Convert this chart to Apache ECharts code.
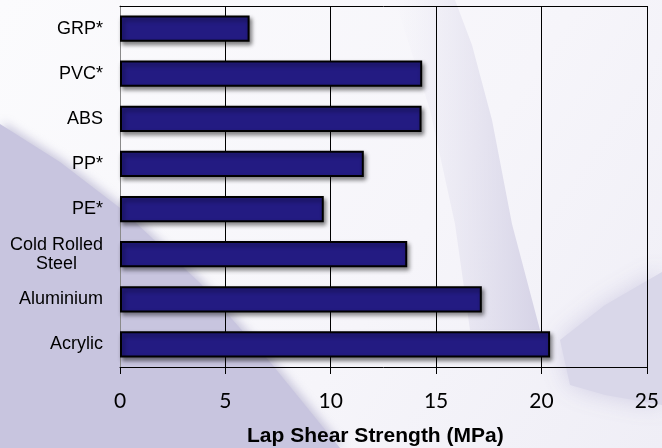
<!DOCTYPE html>
<html>
<head>
<meta charset="utf-8">
<script src="https://cdn.jsdelivr.net/npm/echarts@6/dist/echarts.min.js"></script>
<style>
  html, body { margin: 0; padding: 0; background: #ffffff; }
  #chart { width: 662px; height: 448px; }
</style>
</head>
<body>
<div id="chart"></div>
<script>
const categories = ['GRP*', 'PVC*', 'ABS', 'PP*', 'PE*', 'Cold Rolled\nSteel', 'Aluminium', 'Acrylic'];
const strengths = [6.15, 14.34, 14.31, 11.57, 9.67, 13.63, 17.17, 20.41];
const xTicks = { min: 0, max: 25, interval: 5 };
const xTitle = 'Lap Shear Strength (MPa)';

const chart = echarts.init(document.getElementById('chart'), null, { renderer: 'canvas' });

const bg = [
  { type: 'rect', z: -30, shape: { x: 0, y: 0, width: 662, height: 448 },
    style: { fill: new echarts.graphic.LinearGradient(0, 0, 1, 1, [
      { offset: 0, color: '#fbfbfd' }, { offset: 0.6, color: '#f6f5fa' }, { offset: 1, color: '#efeef6' }]) } },
  // top-middle swoosh
  { type: 'polygon', z: -25, shape: { points: [[395, 0], [455, 0], [472, 45], [492, 120], [512, 224], [540, 330], [470, 330], [455, 224], [430, 110]] },
    style: { fill: new echarts.graphic.LinearGradient(0, 0, 1, 0, [
      { offset: 0, color: 'rgba(225,223,238,0)' }, { offset: 1, color: 'rgba(210,207,228,0.9)' }]) } },
  // lower-right patch
  { type: 'polygon', z: -25, shape: { points: [[560, 340], [605, 305], [662, 272], [662, 405], [605, 395], [570, 385]] },
    style: { fill: '#d9d7e9', shadowBlur: 25, shadowColor: 'rgba(205,202,226,0.9)' } },
  // lower-left lavender
  { type: 'polygon', z: -20, shape: { points: [[0, 124], [60, 162], [120, 208], [200, 283], [270, 362], [340, 448], [0, 448]] },
    style: { fill: '#c8c5df', shadowBlur: 10, shadowOffsetX: 3, shadowOffsetY: -2, shadowColor: 'rgba(170,166,200,0.6)' } }
];

const option = {
  animation: false,
  backgroundColor: 'transparent',
  graphic: bg,
  title: {
    text: xTitle,
    left: 247, top: 426,
    textStyle: { fontFamily: 'Liberation Sans, Arial, sans-serif', fontWeight: 'bold', fontSize: 21, color: '#000' },
    padding: 0
  },
  grid: { left: 120, right: 12, top: 6, bottom: 81, containLabel: false },
  xAxis: [{
    type: 'value', min: xTicks.min, max: xTicks.max, interval: xTicks.interval,
    axisLine: { show: true, lineStyle: { color: '#000', width: 1 } },
    axisTick: { show: true, length: 7, lineStyle: { color: '#000' } },
    axisLabel: { margin: 24, fontFamily: 'Lato, Open Sans, sans-serif', fontSize: 21, color: '#000' },
    splitLine: { show: true, lineStyle: { color: '#000', width: 1 } }
  }, {
    type: 'value', position: 'top', min: xTicks.min, max: xTicks.max, interval: xTicks.interval,
    axisLine: { show: true, lineStyle: { color: '#000', width: 1 } },
    axisTick: { show: false }, axisLabel: { show: false }, splitLine: { show: false }
  }],
  yAxis: {
    type: 'category', data: categories, inverse: true,
    axisLine: { show: true, lineStyle: { color: '#8a8a8a', width: 1 } },
    axisTick: { show: false },
    axisLabel: {
      margin: 17, align: 'right',
      fontFamily: 'Liberation Sans, Arial, sans-serif', fontSize: 18, color: '#000', lineHeight: 19,
      formatter: v => v.split('\n').map(s => '{c|' + s + '}').join('\n'),
      rich: { c: { align: 'center', fontFamily: 'Liberation Sans, Arial, sans-serif', fontSize: 18, lineHeight: 19, color: '#000' } }
    }
  },
  series: [{
    type: 'bar', data: strengths, xAxisIndex: 0,
    barCategoryGap: '42%',
    itemStyle: {
      color: '#231b82', borderColor: '#000', borderWidth: 2,
      shadowColor: 'rgba(0,0,0,0.45)', shadowBlur: 4, shadowOffsetX: 2, shadowOffsetY: 3
    },
    emphasis: { disabled: true }
  }]
};
chart.setOption(option);
</script>
</body>
</html>
